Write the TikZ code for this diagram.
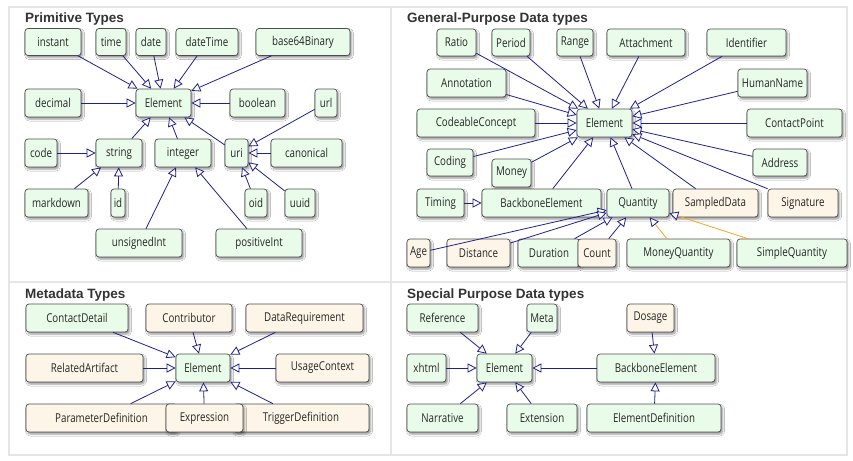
\documentclass[tikz,border=0pt]{standalone}
\usepackage{fontspec}
\setmainfont{Open Sans}[FakeStretch=0.8]
\newfontfamily\titlefont{Liberation Sans}
\usetikzlibrary{arrows.meta,shadows.blur}

\definecolor{boxgreen}{HTML}{E9FCE9}
\definecolor{boxtan}{HTML}{FDF5E8}
\definecolor{boxline}{HTML}{4D4D4D}
\definecolor{linkblue}{HTML}{20208F}
\definecolor{linkorange}{HTML}{F5A623}
\definecolor{gridgray}{HTML}{E6E6E6}
\definecolor{titlegray}{HTML}{333333}

\tikzset{
  typebox/.style={draw=boxline, line width=0.7pt, rounded corners=3pt, inner sep=0pt,
    minimum height=27pt, text=black!85, font=\fontsize{12.2}{13}\selectfont,
    blur shadow={shadow xshift=1.5pt, shadow yshift=-2pt, shadow blur radius=2pt, shadow opacity=45}},
  gbox/.style={typebox, fill=boxgreen},
  tbox/.style={typebox, fill=boxtan},
  inh/.style={draw=linkblue, line width=0.8pt, -{Triangle[length=9pt,width=9pt,fill=white]}},
  inho/.style={draw=linkorange, line width=0.8pt, -{Triangle[length=9pt,width=9pt,fill=white,color=linkblue]}},
  paneltitle/.style={anchor=base west, inner sep=0pt, font=\titlefont\bfseries\fontsize{13.5}{14}\selectfont, text=titlegray},
}

\begin{document}
\begin{tikzpicture}[x=1pt, y=-1pt]
\useasboundingbox (0,0) rectangle (853,460);
\fill[white] (0,0) rectangle (853,460);

% panel grid
\draw[gridgray, line width=1.5pt] (9,7) rectangle (847,455) (391,7) -- (391,455) (9,282) -- (847,282);

% panel titles
\node[paneltitle] (t-prim) at (25,23) {Primitive Types};
\node[paneltitle] (t-gen) at (407,23) {General-Purpose Data types};
\node[paneltitle] (t-meta) at (25,298) {Metadata Types};
\node[paneltitle] (t-spec) at (407,298) {Special Purpose Data types};

% ---------------- Primitive Types ----------------
\node[gbox, minimum width=56pt] (p-instant) at (53,42) {instant};
\node[gbox, minimum width=30pt] (p-time) at (111,42) {time};
\node[gbox, minimum width=30pt] (p-date) at (151,42) {date};
\node[gbox, minimum width=62pt] (p-dateTime) at (207,42) {dateTime};
\node[gbox, minimum width=94pt] (p-base64) at (303,42) {base64Binary};
\node[gbox, minimum width=56pt, minimum height=28pt] (p-decimal) at (53,103) {decimal};
\node[gbox, minimum width=55pt, minimum height=28pt] (p-Element) at (163.5,103) {Element};
\node[gbox, minimum width=55pt, minimum height=28pt] (p-boolean) at (257.5,103) {boolean};
\node[gbox, minimum width=22pt, minimum height=28pt] (p-url) at (326,103) {url};
\node[gbox, minimum width=32pt, minimum height=28pt] (p-code) at (41,153) {code};
\node[gbox, minimum width=46pt, minimum height=28pt] (p-string) at (119,153) {string};
\node[gbox, minimum width=56pt, minimum height=28pt] (p-integer) at (183,153) {integer};
\node[gbox, minimum width=23pt, minimum height=28pt] (p-uri) at (236.5,153) {uri};
\node[gbox, minimum width=71pt, minimum height=28pt] (p-canonical) at (306.5,153) {canonical};
\node[gbox, minimum width=63pt, minimum height=28pt] (p-markdown) at (56.5,203) {markdown};
\node[gbox, minimum width=14pt, minimum height=28pt] (p-id) at (118,203) {id};
\node[gbox, minimum width=22pt, minimum height=28pt] (p-oid) at (256,203) {oid};
\node[gbox, minimum width=30pt, minimum height=28pt] (p-uuid) at (300,203) {uuid};
\node[gbox, minimum width=86pt, minimum height=28pt] (p-unsignedInt) at (139,243) {unsignedInt};
\node[gbox, minimum width=86pt, minimum height=28pt] (p-positiveInt) at (259,243) {positiveInt};

\foreach \s in {instant,time,date,dateTime,base64,decimal,boolean,string,integer,uri}
  \draw[inh] (p-\s) -- (p-Element);
\foreach \s in {code,markdown,id}
  \draw[inh] (p-\s) -- (p-string);
\foreach \s in {url,canonical,oid,uuid}
  \draw[inh] (p-\s) -- (p-uri);
\foreach \s in {unsignedInt,positiveInt}
  \draw[inh] (p-\s) -- (p-integer);

% ---------------- General-Purpose Data types ----------------
\node[gbox, minimum width=39pt] (g-Ratio) at (456.5,42.5) {Ratio};
\node[gbox, minimum width=38pt] (g-Period) at (511,42.5) {Period};
\node[gbox, minimum width=36pt] (g-Range) at (575,42.5) {Range};
\node[gbox, minimum width=78pt] (g-Attachment) at (646,42.5) {Attachment};
\node[gbox, minimum width=79pt] (g-Identifier) at (746.5,42.5) {Identifier};
\node[gbox, minimum width=79pt, minimum height=28pt] (g-Annotation) at (466.5,83) {Annotation};
\node[gbox, minimum width=69pt, minimum height=28pt] (g-HumanName) at (772.5,83) {HumanName};
\node[gbox, minimum width=118pt, minimum height=28pt] (g-CodeableConcept) at (476,123) {CodeableConcept};
\node[gbox, minimum width=55pt, minimum height=28pt] (g-Element) at (604.5,123) {Element};
\node[gbox, minimum width=95pt, minimum height=28pt] (g-ContactPoint) at (794.5,123) {ContactPoint};
\node[gbox, minimum width=46pt] (g-Coding) at (450,162.5) {Coding};
\node[gbox, minimum width=39pt, minimum height=28pt] (g-Money) at (511.5,173) {Money};
\node[gbox, minimum width=54pt] (g-Address) at (780,162.5) {Address};
\node[gbox, minimum width=47pt, minimum height=28pt] (g-Timing) at (440.5,203) {Timing};
\node[gbox, minimum width=119pt, minimum height=28pt] (g-BackboneElement) at (541.5,203) {BackboneElement};
\node[gbox, minimum width=62pt, minimum height=28pt] (g-Quantity) at (638,203) {Quantity};
\node[tbox, minimum width=85pt, minimum height=28pt] (g-SampledData) at (715.5,203) {SampledData};
\node[tbox, minimum width=70pt, minimum height=28pt] (g-Signature) at (803,203) {Signature};
\node[tbox, minimum width=23pt, minimum height=28pt] (g-Age) at (418.5,253) {Age};
\node[tbox, minimum width=63pt, minimum height=28pt] (g-Distance) at (478.5,253) {Distance};
\node[gbox, minimum width=62pt, minimum height=28pt] (g-Duration) at (549,253) {Duration};
\node[tbox, minimum width=38pt, minimum height=28pt] (g-Count) at (597,253) {Count};
\node[gbox, minimum width=103pt, minimum height=28pt] (g-MoneyQuantity) at (678.5,253) {MoneyQuantity};
\node[gbox, minimum width=110pt, minimum height=28pt] (g-SimpleQuantity) at (792,253) {SimpleQuantity};

\foreach \s in {Ratio,Period,Range,Attachment,Identifier,Annotation,HumanName,CodeableConcept,
    ContactPoint,Coding,Money,Address,BackboneElement,Quantity,SampledData,Signature}
  \draw[inh] (g-\s) -- (g-Element);
\draw[inh] (g-Timing) -- (g-BackboneElement);
\foreach \s in {Age,Distance,Duration,Count}
  \draw[inh] (g-\s) -- (g-Quantity);
\foreach \s in {MoneyQuantity,SimpleQuantity}
  \draw[inho] (g-\s) -- (g-Quantity);

% ---------------- Metadata Types ----------------
\node[gbox, minimum width=102pt, minimum height=28pt] (m-ContactDetail) at (77,318) {ContactDetail};
\node[tbox, minimum width=86pt, minimum height=28pt] (m-Contributor) at (189,318) {Contributor};
\node[tbox, minimum width=117pt, minimum height=28pt] (m-DataRequirement) at (304.5,318) {DataRequirement};
\node[tbox, minimum width=117pt, minimum height=28pt] (m-RelatedArtifact) at (84.5,368) {RelatedArtifact};
\node[gbox, minimum width=54pt, minimum height=28pt] (m-Element) at (203,368) {Element};
\node[tbox, minimum width=93pt, minimum height=28pt] (m-UsageContext) at (322.5,368) {UsageContext};
\node[tbox, minimum width=151pt, minimum height=28pt] (m-ParameterDefinition) at (101.5,418) {ParameterDefinition};
\node[tbox, minimum width=136pt, minimum height=28pt] (m-TriggerDefinition) at (301,418) {TriggerDefinition};
\node[tbox, minimum width=77pt, minimum height=28pt] (m-Expression) at (204.5,418) {Expression};

\foreach \s in {ContactDetail,Contributor,DataRequirement,RelatedArtifact,UsageContext,
    ParameterDefinition,Expression,TriggerDefinition}
  \draw[inh] (m-\s) -- (m-Element);

% ---------------- Special Purpose Data types ----------------
\node[gbox, minimum width=71pt, minimum height=28pt] (s-Reference) at (442.5,318) {Reference};
\node[gbox, minimum width=30pt, minimum height=28pt] (s-Meta) at (542,318) {Meta};
\node[tbox, minimum width=47pt, minimum height=28pt] (s-Dosage) at (650.5,318) {Dosage};
\node[gbox, minimum width=39pt, minimum height=28pt] (s-xhtml) at (426.5,368) {xhtml};
\node[gbox, minimum width=55pt, minimum height=28pt] (s-Element) at (504.5,368) {Element};
\node[gbox, minimum width=118pt, minimum height=28pt] (s-BackboneElement) at (656,368) {BackboneElement};
\node[gbox, minimum width=71pt, minimum height=28pt] (s-Narrative) at (442.5,418) {Narrative};
\node[gbox, minimum width=70pt, minimum height=28pt] (s-Extension) at (542,418) {Extension};
\node[gbox, minimum width=134pt, minimum height=28pt] (s-ElementDefinition) at (654,418) {ElementDefinition};

\foreach \s in {Reference,Meta,xhtml,Narrative,Extension,BackboneElement}
  \draw[inh] (s-\s) -- (s-Element);
\foreach \s in {Dosage,ElementDefinition}
  \draw[inh] (s-\s) -- (s-BackboneElement);
\end{tikzpicture}
\end{document}
